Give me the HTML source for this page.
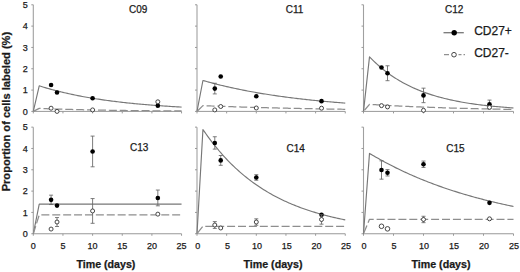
<!DOCTYPE html>
<html><head><meta charset="utf-8"><style>
html,body{margin:0;padding:0;background:#fff;width:520px;height:272px;overflow:hidden}
svg{display:block;font-family:"Liberation Sans",sans-serif}
</style></head><body>
<svg width="520" height="272" viewBox="0 0 520 272">
<line x1="33.30" y1="4.80" x2="33.30" y2="111.40" stroke="#a0a0a0" stroke-width="1.1" />
<line x1="33.30" y1="111.40" x2="181.55" y2="111.40" stroke="#999" stroke-width="1.0" />
<line x1="31.30" y1="111.40" x2="33.30" y2="111.40" stroke="#999" stroke-width="1" />
<line x1="31.30" y1="90.08" x2="33.30" y2="90.08" stroke="#999" stroke-width="1" />
<line x1="31.30" y1="68.76" x2="33.30" y2="68.76" stroke="#999" stroke-width="1" />
<line x1="31.30" y1="47.44" x2="33.30" y2="47.44" stroke="#999" stroke-width="1" />
<line x1="31.30" y1="26.12" x2="33.30" y2="26.12" stroke="#999" stroke-width="1" />
<line x1="31.30" y1="4.80" x2="33.30" y2="4.80" stroke="#999" stroke-width="1" />
<line x1="33.30" y1="111.40" x2="33.30" y2="113.40" stroke="#999" stroke-width="1" />
<line x1="62.95" y1="111.40" x2="62.95" y2="113.40" stroke="#999" stroke-width="1" />
<line x1="92.60" y1="111.40" x2="92.60" y2="113.40" stroke="#999" stroke-width="1" />
<line x1="122.25" y1="111.40" x2="122.25" y2="113.40" stroke="#999" stroke-width="1" />
<line x1="151.90" y1="111.40" x2="151.90" y2="113.40" stroke="#999" stroke-width="1" />
<line x1="181.55" y1="111.40" x2="181.55" y2="113.40" stroke="#999" stroke-width="1" />
<line x1="197.00" y1="4.80" x2="197.00" y2="111.40" stroke="#a0a0a0" stroke-width="1.1" />
<line x1="197.00" y1="111.40" x2="345.25" y2="111.40" stroke="#999" stroke-width="1.0" />
<line x1="195.00" y1="111.40" x2="197.00" y2="111.40" stroke="#999" stroke-width="1" />
<line x1="195.00" y1="90.08" x2="197.00" y2="90.08" stroke="#999" stroke-width="1" />
<line x1="195.00" y1="68.76" x2="197.00" y2="68.76" stroke="#999" stroke-width="1" />
<line x1="195.00" y1="47.44" x2="197.00" y2="47.44" stroke="#999" stroke-width="1" />
<line x1="195.00" y1="26.12" x2="197.00" y2="26.12" stroke="#999" stroke-width="1" />
<line x1="195.00" y1="4.80" x2="197.00" y2="4.80" stroke="#999" stroke-width="1" />
<line x1="197.00" y1="111.40" x2="197.00" y2="113.40" stroke="#999" stroke-width="1" />
<line x1="226.65" y1="111.40" x2="226.65" y2="113.40" stroke="#999" stroke-width="1" />
<line x1="256.30" y1="111.40" x2="256.30" y2="113.40" stroke="#999" stroke-width="1" />
<line x1="285.95" y1="111.40" x2="285.95" y2="113.40" stroke="#999" stroke-width="1" />
<line x1="315.60" y1="111.40" x2="315.60" y2="113.40" stroke="#999" stroke-width="1" />
<line x1="345.25" y1="111.40" x2="345.25" y2="113.40" stroke="#999" stroke-width="1" />
<line x1="363.50" y1="4.80" x2="363.50" y2="111.40" stroke="#a0a0a0" stroke-width="1.1" />
<line x1="363.50" y1="111.40" x2="513.50" y2="111.40" stroke="#999" stroke-width="1.0" />
<line x1="361.50" y1="111.40" x2="363.50" y2="111.40" stroke="#999" stroke-width="1" />
<line x1="361.50" y1="90.08" x2="363.50" y2="90.08" stroke="#999" stroke-width="1" />
<line x1="361.50" y1="68.76" x2="363.50" y2="68.76" stroke="#999" stroke-width="1" />
<line x1="361.50" y1="47.44" x2="363.50" y2="47.44" stroke="#999" stroke-width="1" />
<line x1="361.50" y1="26.12" x2="363.50" y2="26.12" stroke="#999" stroke-width="1" />
<line x1="361.50" y1="4.80" x2="363.50" y2="4.80" stroke="#999" stroke-width="1" />
<line x1="363.50" y1="111.40" x2="363.50" y2="113.40" stroke="#999" stroke-width="1" />
<line x1="393.50" y1="111.40" x2="393.50" y2="113.40" stroke="#999" stroke-width="1" />
<line x1="423.50" y1="111.40" x2="423.50" y2="113.40" stroke="#999" stroke-width="1" />
<line x1="453.50" y1="111.40" x2="453.50" y2="113.40" stroke="#999" stroke-width="1" />
<line x1="483.50" y1="111.40" x2="483.50" y2="113.40" stroke="#999" stroke-width="1" />
<line x1="513.50" y1="111.40" x2="513.50" y2="113.40" stroke="#999" stroke-width="1" />
<line x1="33.30" y1="127.15" x2="33.30" y2="233.75" stroke="#a0a0a0" stroke-width="1.1" />
<line x1="33.30" y1="233.75" x2="181.55" y2="233.75" stroke="#999" stroke-width="1.0" />
<line x1="31.30" y1="233.75" x2="33.30" y2="233.75" stroke="#999" stroke-width="1" />
<line x1="31.30" y1="212.43" x2="33.30" y2="212.43" stroke="#999" stroke-width="1" />
<line x1="31.30" y1="191.11" x2="33.30" y2="191.11" stroke="#999" stroke-width="1" />
<line x1="31.30" y1="169.79" x2="33.30" y2="169.79" stroke="#999" stroke-width="1" />
<line x1="31.30" y1="148.47" x2="33.30" y2="148.47" stroke="#999" stroke-width="1" />
<line x1="31.30" y1="127.15" x2="33.30" y2="127.15" stroke="#999" stroke-width="1" />
<line x1="33.30" y1="233.75" x2="33.30" y2="235.75" stroke="#999" stroke-width="1" />
<line x1="62.95" y1="233.75" x2="62.95" y2="235.75" stroke="#999" stroke-width="1" />
<line x1="92.60" y1="233.75" x2="92.60" y2="235.75" stroke="#999" stroke-width="1" />
<line x1="122.25" y1="233.75" x2="122.25" y2="235.75" stroke="#999" stroke-width="1" />
<line x1="151.90" y1="233.75" x2="151.90" y2="235.75" stroke="#999" stroke-width="1" />
<line x1="181.55" y1="233.75" x2="181.55" y2="235.75" stroke="#999" stroke-width="1" />
<line x1="197.00" y1="127.15" x2="197.00" y2="233.75" stroke="#a0a0a0" stroke-width="1.1" />
<line x1="197.00" y1="233.75" x2="345.25" y2="233.75" stroke="#999" stroke-width="1.0" />
<line x1="195.00" y1="233.75" x2="197.00" y2="233.75" stroke="#999" stroke-width="1" />
<line x1="195.00" y1="212.43" x2="197.00" y2="212.43" stroke="#999" stroke-width="1" />
<line x1="195.00" y1="191.11" x2="197.00" y2="191.11" stroke="#999" stroke-width="1" />
<line x1="195.00" y1="169.79" x2="197.00" y2="169.79" stroke="#999" stroke-width="1" />
<line x1="195.00" y1="148.47" x2="197.00" y2="148.47" stroke="#999" stroke-width="1" />
<line x1="195.00" y1="127.15" x2="197.00" y2="127.15" stroke="#999" stroke-width="1" />
<line x1="197.00" y1="233.75" x2="197.00" y2="235.75" stroke="#999" stroke-width="1" />
<line x1="226.65" y1="233.75" x2="226.65" y2="235.75" stroke="#999" stroke-width="1" />
<line x1="256.30" y1="233.75" x2="256.30" y2="235.75" stroke="#999" stroke-width="1" />
<line x1="285.95" y1="233.75" x2="285.95" y2="235.75" stroke="#999" stroke-width="1" />
<line x1="315.60" y1="233.75" x2="315.60" y2="235.75" stroke="#999" stroke-width="1" />
<line x1="345.25" y1="233.75" x2="345.25" y2="235.75" stroke="#999" stroke-width="1" />
<line x1="363.50" y1="127.15" x2="363.50" y2="233.75" stroke="#a0a0a0" stroke-width="1.1" />
<line x1="363.50" y1="233.75" x2="513.50" y2="233.75" stroke="#999" stroke-width="1.0" />
<line x1="361.50" y1="233.75" x2="363.50" y2="233.75" stroke="#999" stroke-width="1" />
<line x1="361.50" y1="212.43" x2="363.50" y2="212.43" stroke="#999" stroke-width="1" />
<line x1="361.50" y1="191.11" x2="363.50" y2="191.11" stroke="#999" stroke-width="1" />
<line x1="361.50" y1="169.79" x2="363.50" y2="169.79" stroke="#999" stroke-width="1" />
<line x1="361.50" y1="148.47" x2="363.50" y2="148.47" stroke="#999" stroke-width="1" />
<line x1="361.50" y1="127.15" x2="363.50" y2="127.15" stroke="#999" stroke-width="1" />
<line x1="363.50" y1="233.75" x2="363.50" y2="235.75" stroke="#999" stroke-width="1" />
<line x1="393.50" y1="233.75" x2="393.50" y2="235.75" stroke="#999" stroke-width="1" />
<line x1="423.50" y1="233.75" x2="423.50" y2="235.75" stroke="#999" stroke-width="1" />
<line x1="453.50" y1="233.75" x2="453.50" y2="235.75" stroke="#999" stroke-width="1" />
<line x1="483.50" y1="233.75" x2="483.50" y2="235.75" stroke="#999" stroke-width="1" />
<line x1="513.50" y1="233.75" x2="513.50" y2="235.75" stroke="#999" stroke-width="1" />
<path d="M33.30,111.40 L39.23,85.82 L40.71,86.28 L42.19,86.75 L43.68,87.20 L45.16,87.64 L46.64,88.08 L48.12,88.50 L49.61,88.92 L51.09,89.34 L52.57,89.74 L54.05,90.14 L55.54,90.53 L57.02,90.91 L58.50,91.28 L59.98,91.65 L61.47,92.02 L62.95,92.37 L64.43,92.72 L65.91,93.06 L67.40,93.40 L68.88,93.73 L70.36,94.05 L71.84,94.37 L73.33,94.68 L74.81,94.99 L76.29,95.29 L77.77,95.58 L79.26,95.87 L80.74,96.16 L82.22,96.44 L83.70,96.71 L85.19,96.98 L86.67,97.25 L88.15,97.51 L89.63,97.76 L91.12,98.01 L92.60,98.26 L94.08,98.50 L95.56,98.73 L97.05,98.97 L98.53,99.19 L100.01,99.42 L101.49,99.64 L102.98,99.85 L104.46,100.06 L105.94,100.27 L107.42,100.48 L108.91,100.68 L110.39,100.87 L111.87,101.07 L113.35,101.26 L114.84,101.44 L116.32,101.62 L117.80,101.80 L119.28,101.98 L120.77,102.15 L122.25,102.32 L123.73,102.49 L125.21,102.65 L126.70,102.81 L128.18,102.97 L129.66,103.12 L131.14,103.27 L132.63,103.42 L134.11,103.57 L135.59,103.71 L137.07,103.85 L138.56,103.99 L140.04,104.13 L141.52,104.26 L143.00,104.39 L144.49,104.52 L145.97,104.65 L147.45,104.77 L148.94,104.89 L150.42,105.01 L151.90,105.13 L153.38,105.24 L154.87,105.36 L156.35,105.47 L157.83,105.58 L159.31,105.68 L160.79,105.79 L162.28,105.89 L163.76,105.99 L165.24,106.09 L166.72,106.19 L168.21,106.28 L169.69,106.38 L171.17,106.47 L172.65,106.56 L174.14,106.65 L175.62,106.74 L177.10,106.82 L178.58,106.90 L180.07,106.99 L181.55,107.07" fill="none" stroke="#777" stroke-width="1.15" stroke-linejoin="round" />
<path d="M33.30,111.40 L39.23,108.42 L40.71,108.48 L42.19,108.53 L43.68,108.59 L45.16,108.65 L46.64,108.70 L48.12,108.76 L49.61,108.81 L51.09,108.86 L52.57,108.91 L54.05,108.96 L55.54,109.01 L57.02,109.06 L58.50,109.11 L59.98,109.15 L61.47,109.20 L62.95,109.24 L64.43,109.28 L65.91,109.33 L67.40,109.37 L68.88,109.41 L70.36,109.45 L71.84,109.49 L73.33,109.53 L74.81,109.56 L76.29,109.60 L77.77,109.64 L79.26,109.67 L80.74,109.71 L82.22,109.74 L83.70,109.77 L85.19,109.81 L86.67,109.84 L88.15,109.87 L89.63,109.90 L91.12,109.93 L92.60,109.96 L94.08,109.99 L95.56,110.02 L97.05,110.05 L98.53,110.07 L100.01,110.10 L101.49,110.12 L102.98,110.15 L104.46,110.18 L105.94,110.20 L107.42,110.22 L108.91,110.25 L110.39,110.27 L111.87,110.29 L113.35,110.32 L114.84,110.34 L116.32,110.36 L117.80,110.38 L119.28,110.40 L120.77,110.42 L122.25,110.44 L123.73,110.46 L125.21,110.48 L126.70,110.50 L128.18,110.51 L129.66,110.53 L131.14,110.55 L132.63,110.57 L134.11,110.58 L135.59,110.60 L137.07,110.62 L138.56,110.63 L140.04,110.65 L141.52,110.66 L143.00,110.68 L144.49,110.69 L145.97,110.71 L147.45,110.72 L148.94,110.73 L150.42,110.75 L151.90,110.76 L153.38,110.77 L154.87,110.78 L156.35,110.80 L157.83,110.81 L159.31,110.82 L160.79,110.83 L162.28,110.84 L163.76,110.86 L165.24,110.87 L166.72,110.88 L168.21,110.89 L169.69,110.90 L171.17,110.91 L172.65,110.92 L174.14,110.93 L175.62,110.94 L177.10,110.95 L178.58,110.96 L180.07,110.96 L181.55,110.97" fill="none" stroke="#8e8e8e" stroke-width="1.25" stroke-linejoin="round" stroke-dasharray="8 2.9" stroke-dashoffset="0"/>
<circle cx="51.09" cy="84.96" r="2.3" fill="#000"/>
<circle cx="57.02" cy="92.43" r="2.3" fill="#000"/>
<circle cx="92.60" cy="98.18" r="2.3" fill="#000"/>
<circle cx="157.83" cy="105.64" r="2.3" fill="#000"/>
<circle cx="51.09" cy="108.20" r="2.0" fill="#fff" stroke="#333" stroke-width="0.9"/>
<circle cx="57.02" cy="111.40" r="2.0" fill="#fff" stroke="#333" stroke-width="0.9"/>
<circle cx="92.60" cy="109.91" r="2.0" fill="#fff" stroke="#333" stroke-width="0.9"/>
<circle cx="157.83" cy="101.81" r="2.0" fill="#fff" stroke="#333" stroke-width="0.9"/>
<path d="M197.00,111.40 L202.93,80.49 L204.41,80.91 L205.90,81.32 L207.38,81.74 L208.86,82.14 L210.34,82.54 L211.82,82.93 L213.31,83.32 L214.79,83.71 L216.27,84.08 L217.75,84.46 L219.24,84.83 L220.72,85.19 L222.20,85.55 L223.69,85.90 L225.17,86.25 L226.65,86.59 L228.13,86.93 L229.62,87.26 L231.10,87.59 L232.58,87.92 L234.06,88.24 L235.55,88.56 L237.03,88.87 L238.51,89.18 L239.99,89.48 L241.47,89.78 L242.96,90.07 L244.44,90.36 L245.92,90.65 L247.41,90.94 L248.89,91.21 L250.37,91.49 L251.85,91.76 L253.33,92.03 L254.82,92.29 L256.30,92.56 L257.78,92.81 L259.26,93.07 L260.75,93.32 L262.23,93.56 L263.71,93.81 L265.19,94.05 L266.68,94.28 L268.16,94.52 L269.64,94.75 L271.12,94.98 L272.61,95.20 L274.09,95.42 L275.57,95.64 L277.06,95.86 L278.54,96.07 L280.02,96.28 L281.50,96.48 L282.99,96.69 L284.47,96.89 L285.95,97.09 L287.43,97.28 L288.91,97.47 L290.40,97.66 L291.88,97.85 L293.36,98.04 L294.85,98.22 L296.33,98.40 L297.81,98.58 L299.29,98.75 L300.77,98.93 L302.26,99.10 L303.74,99.26 L305.22,99.43 L306.70,99.59 L308.19,99.75 L309.67,99.91 L311.15,100.07 L312.63,100.22 L314.12,100.38 L315.60,100.53 L317.08,100.68 L318.56,100.82 L320.05,100.97 L321.53,101.11 L323.01,101.25 L324.50,101.39 L325.98,101.53 L327.46,101.66 L328.94,101.79 L330.42,101.92 L331.91,102.05 L333.39,102.18 L334.87,102.31 L336.36,102.43 L337.84,102.55 L339.32,102.67 L340.80,102.79 L342.28,102.91 L343.77,103.03 L345.25,103.14" fill="none" stroke="#777" stroke-width="1.15" stroke-linejoin="round" />
<path d="M197.00,111.40 L202.93,105.64 L204.41,105.70 L205.90,105.76 L207.38,105.82 L208.86,105.88 L210.34,105.94 L211.82,106.00 L213.31,106.05 L214.79,106.11 L216.27,106.16 L217.75,106.22 L219.24,106.27 L220.72,106.33 L222.20,106.38 L223.69,106.43 L225.17,106.48 L226.65,106.53 L228.13,106.58 L229.62,106.63 L231.10,106.68 L232.58,106.73 L234.06,106.78 L235.55,106.83 L237.03,106.88 L238.51,106.93 L239.99,106.97 L241.47,107.02 L242.96,107.06 L244.44,107.11 L245.92,107.15 L247.41,107.20 L248.89,107.24 L250.37,107.29 L251.85,107.33 L253.33,107.37 L254.82,107.41 L256.30,107.46 L257.78,107.50 L259.26,107.54 L260.75,107.58 L262.23,107.62 L263.71,107.66 L265.19,107.70 L266.68,107.74 L268.16,107.77 L269.64,107.81 L271.12,107.85 L272.61,107.89 L274.09,107.92 L275.57,107.96 L277.06,107.99 L278.54,108.03 L280.02,108.07 L281.50,108.10 L282.99,108.13 L284.47,108.17 L285.95,108.20 L287.43,108.24 L288.91,108.27 L290.40,108.30 L291.88,108.33 L293.36,108.37 L294.85,108.40 L296.33,108.43 L297.81,108.46 L299.29,108.49 L300.77,108.52 L302.26,108.55 L303.74,108.58 L305.22,108.61 L306.70,108.64 L308.19,108.67 L309.67,108.70 L311.15,108.73 L312.63,108.75 L314.12,108.78 L315.60,108.81 L317.08,108.84 L318.56,108.86 L320.05,108.89 L321.53,108.91 L323.01,108.94 L324.50,108.97 L325.98,108.99 L327.46,109.02 L328.94,109.04 L330.42,109.07 L331.91,109.09 L333.39,109.12 L334.87,109.14 L336.36,109.16 L337.84,109.19 L339.32,109.21 L340.80,109.23 L342.28,109.25 L343.77,109.28 L345.25,109.30" fill="none" stroke="#8e8e8e" stroke-width="1.25" stroke-linejoin="round" stroke-dasharray="8 2.9" stroke-dashoffset="-1"/>
<line x1="214.79" y1="83.26" x2="214.79" y2="93.92" stroke="#666" stroke-width="0.85" />
<line x1="212.79" y1="83.26" x2="216.79" y2="83.26" stroke="#666" stroke-width="0.85" />
<line x1="212.79" y1="93.92" x2="216.79" y2="93.92" stroke="#666" stroke-width="0.85" />
<circle cx="214.79" cy="88.59" r="2.3" fill="#000"/>
<circle cx="220.72" cy="76.44" r="2.3" fill="#000"/>
<circle cx="256.30" cy="96.26" r="2.3" fill="#000"/>
<circle cx="321.53" cy="101.17" r="2.3" fill="#000"/>
<circle cx="214.79" cy="109.91" r="2.0" fill="#fff" stroke="#333" stroke-width="0.9"/>
<circle cx="220.72" cy="106.50" r="2.0" fill="#fff" stroke="#333" stroke-width="0.9"/>
<circle cx="256.30" cy="107.99" r="2.0" fill="#fff" stroke="#333" stroke-width="0.9"/>
<circle cx="321.53" cy="108.20" r="2.0" fill="#fff" stroke="#333" stroke-width="0.9"/>
<path d="M363.50,111.40 L369.50,56.82 L371.00,58.37 L372.50,59.87 L374.00,61.33 L375.50,62.75 L377.00,64.13 L378.50,65.47 L380.00,66.77 L381.50,68.03 L383.00,69.26 L384.50,70.46 L386.00,71.62 L387.50,72.75 L389.00,73.84 L390.50,74.91 L392.00,75.94 L393.50,76.95 L395.00,77.92 L396.50,78.87 L398.00,79.79 L399.50,80.69 L401.00,81.56 L402.50,82.40 L404.00,83.23 L405.50,84.02 L407.00,84.80 L408.50,85.55 L410.00,86.29 L411.50,87.00 L413.00,87.69 L414.50,88.36 L416.00,89.01 L417.50,89.65 L419.00,90.27 L420.50,90.86 L422.00,91.45 L423.50,92.01 L425.00,92.56 L426.50,93.10 L428.00,93.61 L429.50,94.12 L431.00,94.61 L432.50,95.08 L434.00,95.55 L435.50,96.00 L437.00,96.43 L438.50,96.86 L440.00,97.27 L441.50,97.67 L443.00,98.06 L444.50,98.44 L446.00,98.80 L447.50,99.16 L449.00,99.51 L450.50,99.84 L452.00,100.17 L453.50,100.49 L455.00,100.80 L456.50,101.10 L458.00,101.39 L459.50,101.68 L461.00,101.95 L462.50,102.22 L464.00,102.48 L465.50,102.73 L467.00,102.98 L468.50,103.22 L470.00,103.45 L471.50,103.67 L473.00,103.89 L474.50,104.11 L476.00,104.31 L477.50,104.51 L479.00,104.71 L480.50,104.90 L482.00,105.08 L483.50,105.26 L485.00,105.44 L486.50,105.60 L488.00,105.77 L489.50,105.93 L491.00,106.08 L492.50,106.23 L494.00,106.38 L495.50,106.52 L497.00,106.66 L498.50,106.79 L500.00,106.93 L501.50,107.05 L503.00,107.18 L504.50,107.30 L506.00,107.41 L507.50,107.52 L509.00,107.63 L510.50,107.74 L512.00,107.84 L513.50,107.95" fill="none" stroke="#777" stroke-width="1.15" stroke-linejoin="round" />
<path d="M363.50,111.40 L369.50,104.36 L371.00,104.46 L372.50,104.55 L374.00,104.64 L375.50,104.73 L377.00,104.82 L378.50,104.91 L380.00,105.00 L381.50,105.08 L383.00,105.17 L384.50,105.25 L386.00,105.34 L387.50,105.42 L389.00,105.50 L390.50,105.58 L392.00,105.65 L393.50,105.73 L395.00,105.81 L396.50,105.88 L398.00,105.96 L399.50,106.03 L401.00,106.10 L402.50,106.17 L404.00,106.24 L405.50,106.31 L407.00,106.38 L408.50,106.45 L410.00,106.51 L411.50,106.58 L413.00,106.64 L414.50,106.71 L416.00,106.77 L417.50,106.83 L419.00,106.89 L420.50,106.95 L422.00,107.01 L423.50,107.07 L425.00,107.13 L426.50,107.19 L428.00,107.24 L429.50,107.30 L431.00,107.35 L432.50,107.41 L434.00,107.46 L435.50,107.52 L437.00,107.57 L438.50,107.62 L440.00,107.67 L441.50,107.72 L443.00,107.77 L444.50,107.82 L446.00,107.87 L447.50,107.91 L449.00,107.96 L450.50,108.01 L452.00,108.05 L453.50,108.10 L455.00,108.14 L456.50,108.18 L458.00,108.23 L459.50,108.27 L461.00,108.31 L462.50,108.35 L464.00,108.39 L465.50,108.43 L467.00,108.47 L468.50,108.51 L470.00,108.55 L471.50,108.59 L473.00,108.63 L474.50,108.67 L476.00,108.70 L477.50,108.74 L479.00,108.77 L480.50,108.81 L482.00,108.84 L483.50,108.88 L485.00,108.91 L486.50,108.95 L488.00,108.98 L489.50,109.01 L491.00,109.04 L492.50,109.07 L494.00,109.11 L495.50,109.14 L497.00,109.17 L498.50,109.20 L500.00,109.23 L501.50,109.26 L503.00,109.28 L504.50,109.31 L506.00,109.34 L507.50,109.37 L509.00,109.40 L510.50,109.42 L512.00,109.45 L513.50,109.47" fill="none" stroke="#8e8e8e" stroke-width="1.25" stroke-linejoin="round" stroke-dasharray="8 2.9" stroke-dashoffset="-1.5"/>
<circle cx="381.50" cy="67.48" r="2.3" fill="#000"/>
<line x1="387.50" y1="65.78" x2="387.50" y2="80.70" stroke="#666" stroke-width="0.85" />
<line x1="385.50" y1="65.78" x2="389.50" y2="65.78" stroke="#666" stroke-width="0.85" />
<line x1="385.50" y1="80.70" x2="389.50" y2="80.70" stroke="#666" stroke-width="0.85" />
<circle cx="387.50" cy="73.24" r="2.3" fill="#000"/>
<line x1="423.50" y1="88.16" x2="423.50" y2="102.66" stroke="#666" stroke-width="0.85" />
<line x1="421.50" y1="88.16" x2="425.50" y2="88.16" stroke="#666" stroke-width="0.85" />
<line x1="421.50" y1="102.66" x2="425.50" y2="102.66" stroke="#666" stroke-width="0.85" />
<circle cx="423.50" cy="95.41" r="2.3" fill="#000"/>
<line x1="489.50" y1="100.10" x2="489.50" y2="108.63" stroke="#666" stroke-width="0.85" />
<line x1="487.50" y1="100.10" x2="491.50" y2="100.10" stroke="#666" stroke-width="0.85" />
<line x1="487.50" y1="108.63" x2="491.50" y2="108.63" stroke="#666" stroke-width="0.85" />
<circle cx="489.50" cy="104.36" r="2.3" fill="#000"/>
<circle cx="381.50" cy="105.64" r="2.0" fill="#fff" stroke="#333" stroke-width="0.9"/>
<circle cx="387.50" cy="106.92" r="2.0" fill="#fff" stroke="#333" stroke-width="0.9"/>
<circle cx="423.50" cy="110.33" r="2.0" fill="#fff" stroke="#333" stroke-width="0.9"/>
<circle cx="489.50" cy="107.35" r="2.0" fill="#fff" stroke="#333" stroke-width="0.9"/>
<path d="M33.30,233.75 L39.23,204.12 L40.71,204.12 L42.19,204.12 L43.68,204.12 L45.16,204.12 L46.64,204.12 L48.12,204.12 L49.61,204.12 L51.09,204.12 L52.57,204.12 L54.05,204.12 L55.54,204.12 L57.02,204.12 L58.50,204.12 L59.98,204.12 L61.47,204.12 L62.95,204.12 L64.43,204.12 L65.91,204.12 L67.40,204.12 L68.88,204.12 L70.36,204.12 L71.84,204.12 L73.33,204.12 L74.81,204.12 L76.29,204.12 L77.77,204.12 L79.26,204.12 L80.74,204.12 L82.22,204.12 L83.70,204.12 L85.19,204.12 L86.67,204.12 L88.15,204.12 L89.63,204.12 L91.12,204.12 L92.60,204.12 L94.08,204.12 L95.56,204.12 L97.05,204.12 L98.53,204.12 L100.01,204.12 L101.49,204.12 L102.98,204.12 L104.46,204.12 L105.94,204.12 L107.42,204.12 L108.91,204.12 L110.39,204.12 L111.87,204.12 L113.35,204.12 L114.84,204.12 L116.32,204.12 L117.80,204.12 L119.28,204.12 L120.77,204.12 L122.25,204.12 L123.73,204.12 L125.21,204.12 L126.70,204.12 L128.18,204.12 L129.66,204.12 L131.14,204.12 L132.63,204.12 L134.11,204.12 L135.59,204.12 L137.07,204.12 L138.56,204.12 L140.04,204.12 L141.52,204.12 L143.00,204.12 L144.49,204.12 L145.97,204.12 L147.45,204.12 L148.94,204.12 L150.42,204.12 L151.90,204.12 L153.38,204.12 L154.87,204.12 L156.35,204.12 L157.83,204.12 L159.31,204.12 L160.79,204.12 L162.28,204.12 L163.76,204.12 L165.24,204.12 L166.72,204.12 L168.21,204.12 L169.69,204.12 L171.17,204.12 L172.65,204.12 L174.14,204.12 L175.62,204.12 L177.10,204.12 L178.58,204.12 L180.07,204.12 L181.55,204.12" fill="none" stroke="#777" stroke-width="1.15" stroke-linejoin="round" />
<path d="M33.30,233.75 L39.23,214.99 L40.71,214.99 L42.19,214.99 L43.68,214.99 L45.16,214.99 L46.64,214.99 L48.12,214.99 L49.61,214.99 L51.09,214.99 L52.57,214.99 L54.05,214.99 L55.54,214.99 L57.02,214.99 L58.50,214.99 L59.98,214.99 L61.47,214.99 L62.95,214.99 L64.43,214.99 L65.91,214.99 L67.40,214.99 L68.88,214.99 L70.36,214.99 L71.84,214.99 L73.33,214.99 L74.81,214.99 L76.29,214.99 L77.77,214.99 L79.26,214.99 L80.74,214.99 L82.22,214.99 L83.70,214.99 L85.19,214.99 L86.67,214.99 L88.15,214.99 L89.63,214.99 L91.12,214.99 L92.60,214.99 L94.08,214.99 L95.56,214.99 L97.05,214.99 L98.53,214.99 L100.01,214.99 L101.49,214.99 L102.98,214.99 L104.46,214.99 L105.94,214.99 L107.42,214.99 L108.91,214.99 L110.39,214.99 L111.87,214.99 L113.35,214.99 L114.84,214.99 L116.32,214.99 L117.80,214.99 L119.28,214.99 L120.77,214.99 L122.25,214.99 L123.73,214.99 L125.21,214.99 L126.70,214.99 L128.18,214.99 L129.66,214.99 L131.14,214.99 L132.63,214.99 L134.11,214.99 L135.59,214.99 L137.07,214.99 L138.56,214.99 L140.04,214.99 L141.52,214.99 L143.00,214.99 L144.49,214.99 L145.97,214.99 L147.45,214.99 L148.94,214.99 L150.42,214.99 L151.90,214.99 L153.38,214.99 L154.87,214.99 L156.35,214.99 L157.83,214.99 L159.31,214.99 L160.79,214.99 L162.28,214.99 L163.76,214.99 L165.24,214.99 L166.72,214.99 L168.21,214.99 L169.69,214.99 L171.17,214.99 L172.65,214.99 L174.14,214.99 L175.62,214.99 L177.10,214.99 L178.58,214.99 L180.07,214.99 L181.55,214.99" fill="none" stroke="#8e8e8e" stroke-width="1.25" stroke-linejoin="round" stroke-dasharray="8 2.9" stroke-dashoffset="0"/>
<line x1="51.09" y1="195.16" x2="51.09" y2="204.54" stroke="#666" stroke-width="0.85" />
<line x1="49.09" y1="195.16" x2="53.09" y2="195.16" stroke="#666" stroke-width="0.85" />
<line x1="49.09" y1="204.54" x2="53.09" y2="204.54" stroke="#666" stroke-width="0.85" />
<circle cx="51.09" cy="199.85" r="2.3" fill="#000"/>
<circle cx="57.02" cy="205.61" r="2.3" fill="#000"/>
<line x1="92.60" y1="136.10" x2="92.60" y2="166.81" stroke="#666" stroke-width="0.85" />
<line x1="90.60" y1="136.10" x2="94.60" y2="136.10" stroke="#666" stroke-width="0.85" />
<line x1="90.60" y1="166.81" x2="94.60" y2="166.81" stroke="#666" stroke-width="0.85" />
<circle cx="92.60" cy="151.45" r="2.3" fill="#000"/>
<line x1="157.83" y1="190.04" x2="157.83" y2="205.82" stroke="#666" stroke-width="0.85" />
<line x1="155.83" y1="190.04" x2="159.83" y2="190.04" stroke="#666" stroke-width="0.85" />
<line x1="155.83" y1="205.82" x2="159.83" y2="205.82" stroke="#666" stroke-width="0.85" />
<circle cx="157.83" cy="197.93" r="2.3" fill="#000"/>
<circle cx="51.09" cy="229.06" r="2.0" fill="#fff" stroke="#333" stroke-width="0.9"/>
<line x1="57.02" y1="217.55" x2="57.02" y2="226.50" stroke="#666" stroke-width="0.85" />
<line x1="55.02" y1="217.55" x2="59.02" y2="217.55" stroke="#666" stroke-width="0.85" />
<line x1="55.02" y1="226.50" x2="59.02" y2="226.50" stroke="#666" stroke-width="0.85" />
<circle cx="57.02" cy="222.02" r="2.0" fill="#fff" stroke="#333" stroke-width="0.9"/>
<line x1="92.60" y1="198.57" x2="92.60" y2="223.30" stroke="#666" stroke-width="0.85" />
<line x1="90.60" y1="198.57" x2="94.60" y2="198.57" stroke="#666" stroke-width="0.85" />
<line x1="90.60" y1="223.30" x2="94.60" y2="223.30" stroke="#666" stroke-width="0.85" />
<circle cx="92.60" cy="210.94" r="2.0" fill="#fff" stroke="#333" stroke-width="0.9"/>
<circle cx="157.83" cy="214.14" r="2.0" fill="#fff" stroke="#333" stroke-width="0.9"/>
<path d="M197.00,233.75 L202.93,129.50 L204.41,131.66 L205.90,133.78 L207.38,135.86 L208.86,137.89 L210.34,139.89 L211.82,141.84 L213.31,143.75 L214.79,145.62 L216.27,147.45 L217.75,149.24 L219.24,151.00 L220.72,152.72 L222.20,154.40 L223.69,156.05 L225.17,157.67 L226.65,159.25 L228.13,160.80 L229.62,162.31 L231.10,163.80 L232.58,165.25 L234.06,166.67 L235.55,168.07 L237.03,169.43 L238.51,170.77 L239.99,172.08 L241.47,173.36 L242.96,174.61 L244.44,175.84 L245.92,177.05 L247.41,178.22 L248.89,179.38 L250.37,180.51 L251.85,181.61 L253.33,182.70 L254.82,183.76 L256.30,184.80 L257.78,185.82 L259.26,186.81 L260.75,187.79 L262.23,188.74 L263.71,189.68 L265.19,190.59 L266.68,191.49 L268.16,192.37 L269.64,193.23 L271.12,194.07 L272.61,194.89 L274.09,195.70 L275.57,196.49 L277.06,197.27 L278.54,198.03 L280.02,198.77 L281.50,199.49 L282.99,200.21 L284.47,200.90 L285.95,201.59 L287.43,202.25 L288.91,202.91 L290.40,203.55 L291.88,204.18 L293.36,204.79 L294.85,205.39 L296.33,205.98 L297.81,206.56 L299.29,207.13 L300.77,207.68 L302.26,208.22 L303.74,208.75 L305.22,209.27 L306.70,209.78 L308.19,210.28 L309.67,210.77 L311.15,211.24 L312.63,211.71 L314.12,212.17 L315.60,212.62 L317.08,213.06 L318.56,213.49 L320.05,213.91 L321.53,214.32 L323.01,214.72 L324.50,215.12 L325.98,215.51 L327.46,215.89 L328.94,216.26 L330.42,216.62 L331.91,216.98 L333.39,217.32 L334.87,217.67 L336.36,218.00 L337.84,218.33 L339.32,218.65 L340.80,218.96 L342.28,219.27 L343.77,219.57 L345.25,219.86" fill="none" stroke="#777" stroke-width="1.15" stroke-linejoin="round" />
<path d="M197.00,233.75 L202.93,226.29 L204.41,226.29 L205.90,226.29 L207.38,226.29 L208.86,226.29 L210.34,226.29 L211.82,226.29 L213.31,226.29 L214.79,226.29 L216.27,226.29 L217.75,226.29 L219.24,226.29 L220.72,226.29 L222.20,226.29 L223.69,226.29 L225.17,226.29 L226.65,226.29 L228.13,226.29 L229.62,226.29 L231.10,226.29 L232.58,226.29 L234.06,226.29 L235.55,226.29 L237.03,226.29 L238.51,226.29 L239.99,226.29 L241.47,226.29 L242.96,226.29 L244.44,226.29 L245.92,226.29 L247.41,226.29 L248.89,226.29 L250.37,226.29 L251.85,226.29 L253.33,226.29 L254.82,226.29 L256.30,226.29 L257.78,226.29 L259.26,226.29 L260.75,226.29 L262.23,226.29 L263.71,226.29 L265.19,226.29 L266.68,226.29 L268.16,226.29 L269.64,226.29 L271.12,226.29 L272.61,226.29 L274.09,226.29 L275.57,226.29 L277.06,226.29 L278.54,226.29 L280.02,226.29 L281.50,226.29 L282.99,226.29 L284.47,226.29 L285.95,226.29 L287.43,226.29 L288.91,226.29 L290.40,226.29 L291.88,226.29 L293.36,226.29 L294.85,226.29 L296.33,226.29 L297.81,226.29 L299.29,226.29 L300.77,226.29 L302.26,226.29 L303.74,226.29 L305.22,226.29 L306.70,226.29 L308.19,226.29 L309.67,226.29 L311.15,226.29 L312.63,226.29 L314.12,226.29 L315.60,226.29 L317.08,226.29 L318.56,226.29 L320.05,226.29 L321.53,226.29 L323.01,226.29 L324.50,226.29 L325.98,226.29 L327.46,226.29 L328.94,226.29 L330.42,226.29 L331.91,226.29 L333.39,226.29 L334.87,226.29 L336.36,226.29 L337.84,226.29 L339.32,226.29 L340.80,226.29 L342.28,226.29 L343.77,226.29 L345.25,226.29" fill="none" stroke="#8e8e8e" stroke-width="1.25" stroke-linejoin="round" stroke-dasharray="8 2.9" stroke-dashoffset="-1"/>
<line x1="214.79" y1="136.74" x2="214.79" y2="149.11" stroke="#666" stroke-width="0.85" />
<line x1="212.79" y1="136.74" x2="216.79" y2="136.74" stroke="#666" stroke-width="0.85" />
<line x1="212.79" y1="149.11" x2="216.79" y2="149.11" stroke="#666" stroke-width="0.85" />
<circle cx="214.79" cy="142.93" r="2.3" fill="#000"/>
<line x1="220.72" y1="155.51" x2="220.72" y2="165.31" stroke="#666" stroke-width="0.85" />
<line x1="218.72" y1="155.51" x2="222.72" y2="155.51" stroke="#666" stroke-width="0.85" />
<line x1="218.72" y1="165.31" x2="222.72" y2="165.31" stroke="#666" stroke-width="0.85" />
<circle cx="220.72" cy="160.41" r="2.3" fill="#000"/>
<line x1="256.30" y1="174.69" x2="256.30" y2="180.24" stroke="#666" stroke-width="0.85" />
<line x1="254.30" y1="174.69" x2="258.30" y2="174.69" stroke="#666" stroke-width="0.85" />
<line x1="254.30" y1="180.24" x2="258.30" y2="180.24" stroke="#666" stroke-width="0.85" />
<circle cx="256.30" cy="177.47" r="2.3" fill="#000"/>
<circle cx="321.53" cy="214.78" r="2.3" fill="#000"/>
<line x1="214.79" y1="221.60" x2="214.79" y2="228.42" stroke="#666" stroke-width="0.85" />
<line x1="212.79" y1="221.60" x2="216.79" y2="221.60" stroke="#666" stroke-width="0.85" />
<line x1="212.79" y1="228.42" x2="216.79" y2="228.42" stroke="#666" stroke-width="0.85" />
<circle cx="214.79" cy="225.01" r="2.0" fill="#fff" stroke="#333" stroke-width="0.9"/>
<circle cx="220.72" cy="227.99" r="2.0" fill="#fff" stroke="#333" stroke-width="0.9"/>
<line x1="256.30" y1="218.83" x2="256.30" y2="225.22" stroke="#666" stroke-width="0.85" />
<line x1="254.30" y1="218.83" x2="258.30" y2="218.83" stroke="#666" stroke-width="0.85" />
<line x1="254.30" y1="225.22" x2="258.30" y2="225.22" stroke="#666" stroke-width="0.85" />
<circle cx="256.30" cy="222.02" r="2.0" fill="#fff" stroke="#333" stroke-width="0.9"/>
<line x1="321.53" y1="214.78" x2="321.53" y2="224.16" stroke="#666" stroke-width="0.85" />
<line x1="319.53" y1="214.78" x2="323.53" y2="214.78" stroke="#666" stroke-width="0.85" />
<line x1="319.53" y1="224.16" x2="323.53" y2="224.16" stroke="#666" stroke-width="0.85" />
<circle cx="321.53" cy="219.47" r="2.0" fill="#fff" stroke="#333" stroke-width="0.9"/>
<path d="M363.50,233.75 L369.50,153.37 L371.00,154.27 L372.50,155.16 L374.00,156.04 L375.50,156.91 L377.00,157.77 L378.50,158.62 L380.00,159.46 L381.50,160.29 L383.00,161.11 L384.50,161.93 L386.00,162.73 L387.50,163.52 L389.00,164.31 L390.50,165.09 L392.00,165.85 L393.50,166.61 L395.00,167.37 L396.50,168.11 L398.00,168.84 L399.50,169.57 L401.00,170.29 L402.50,171.00 L404.00,171.70 L405.50,172.39 L407.00,173.08 L408.50,173.76 L410.00,174.43 L411.50,175.09 L413.00,175.75 L414.50,176.40 L416.00,177.04 L417.50,177.67 L419.00,178.30 L420.50,178.92 L422.00,179.53 L423.50,180.14 L425.00,180.74 L426.50,181.33 L428.00,181.92 L429.50,182.50 L431.00,183.07 L432.50,183.64 L434.00,184.20 L435.50,184.75 L437.00,185.30 L438.50,185.84 L440.00,186.38 L441.50,186.91 L443.00,187.43 L444.50,187.95 L446.00,188.47 L447.50,188.97 L449.00,189.47 L450.50,189.97 L452.00,190.46 L453.50,190.94 L455.00,191.42 L456.50,191.89 L458.00,192.36 L459.50,192.83 L461.00,193.28 L462.50,193.74 L464.00,194.18 L465.50,194.63 L467.00,195.06 L468.50,195.50 L470.00,195.92 L471.50,196.35 L473.00,196.77 L474.50,197.18 L476.00,197.59 L477.50,197.99 L479.00,198.39 L480.50,198.79 L482.00,199.18 L483.50,199.57 L485.00,199.95 L486.50,200.33 L488.00,200.70 L489.50,201.07 L491.00,201.44 L492.50,201.80 L494.00,202.16 L495.50,202.51 L497.00,202.86 L498.50,203.20 L500.00,203.55 L501.50,203.88 L503.00,204.22 L504.50,204.55 L506.00,204.88 L507.50,205.20 L509.00,205.52 L510.50,205.83 L512.00,206.15 L513.50,206.45" fill="none" stroke="#777" stroke-width="1.15" stroke-linejoin="round" />
<path d="M363.50,233.75 L369.50,219.25 L371.00,219.25 L372.50,219.25 L374.00,219.25 L375.50,219.25 L377.00,219.25 L378.50,219.25 L380.00,219.25 L381.50,219.25 L383.00,219.25 L384.50,219.25 L386.00,219.25 L387.50,219.25 L389.00,219.25 L390.50,219.25 L392.00,219.25 L393.50,219.25 L395.00,219.25 L396.50,219.25 L398.00,219.25 L399.50,219.25 L401.00,219.25 L402.50,219.25 L404.00,219.25 L405.50,219.25 L407.00,219.25 L408.50,219.25 L410.00,219.25 L411.50,219.25 L413.00,219.25 L414.50,219.25 L416.00,219.25 L417.50,219.25 L419.00,219.25 L420.50,219.25 L422.00,219.25 L423.50,219.25 L425.00,219.25 L426.50,219.25 L428.00,219.25 L429.50,219.25 L431.00,219.25 L432.50,219.25 L434.00,219.25 L435.50,219.25 L437.00,219.25 L438.50,219.25 L440.00,219.25 L441.50,219.25 L443.00,219.25 L444.50,219.25 L446.00,219.25 L447.50,219.25 L449.00,219.25 L450.50,219.25 L452.00,219.25 L453.50,219.25 L455.00,219.25 L456.50,219.25 L458.00,219.25 L459.50,219.25 L461.00,219.25 L462.50,219.25 L464.00,219.25 L465.50,219.25 L467.00,219.25 L468.50,219.25 L470.00,219.25 L471.50,219.25 L473.00,219.25 L474.50,219.25 L476.00,219.25 L477.50,219.25 L479.00,219.25 L480.50,219.25 L482.00,219.25 L483.50,219.25 L485.00,219.25 L486.50,219.25 L488.00,219.25 L489.50,219.25 L491.00,219.25 L492.50,219.25 L494.00,219.25 L495.50,219.25 L497.00,219.25 L498.50,219.25 L500.00,219.25 L501.50,219.25 L503.00,219.25 L504.50,219.25 L506.00,219.25 L507.50,219.25 L509.00,219.25 L510.50,219.25 L512.00,219.25 L513.50,219.25" fill="none" stroke="#8e8e8e" stroke-width="1.25" stroke-linejoin="round" stroke-dasharray="8 2.9" stroke-dashoffset="-1"/>
<line x1="381.50" y1="160.84" x2="381.50" y2="179.17" stroke="#666" stroke-width="0.85" />
<line x1="379.50" y1="160.84" x2="383.50" y2="160.84" stroke="#666" stroke-width="0.85" />
<line x1="379.50" y1="179.17" x2="383.50" y2="179.17" stroke="#666" stroke-width="0.85" />
<circle cx="381.50" cy="170.00" r="2.3" fill="#000"/>
<line x1="387.50" y1="169.58" x2="387.50" y2="175.97" stroke="#666" stroke-width="0.85" />
<line x1="385.50" y1="169.58" x2="389.50" y2="169.58" stroke="#666" stroke-width="0.85" />
<line x1="385.50" y1="175.97" x2="389.50" y2="175.97" stroke="#666" stroke-width="0.85" />
<circle cx="387.50" cy="172.77" r="2.3" fill="#000"/>
<line x1="423.50" y1="161.05" x2="423.50" y2="167.44" stroke="#666" stroke-width="0.85" />
<line x1="421.50" y1="161.05" x2="425.50" y2="161.05" stroke="#666" stroke-width="0.85" />
<line x1="421.50" y1="167.44" x2="425.50" y2="167.44" stroke="#666" stroke-width="0.85" />
<circle cx="423.50" cy="164.25" r="2.3" fill="#000"/>
<circle cx="489.50" cy="202.84" r="2.3" fill="#000"/>
<circle cx="381.50" cy="226.29" r="2.3" fill="#fff" stroke="#333" stroke-width="0.9"/>
<circle cx="387.50" cy="228.85" r="2.3" fill="#fff" stroke="#333" stroke-width="0.9"/>
<line x1="423.50" y1="216.27" x2="423.50" y2="222.66" stroke="#666" stroke-width="0.85" />
<line x1="421.50" y1="216.27" x2="425.50" y2="216.27" stroke="#666" stroke-width="0.85" />
<line x1="421.50" y1="222.66" x2="425.50" y2="222.66" stroke="#666" stroke-width="0.85" />
<circle cx="423.50" cy="219.47" r="2.0" fill="#fff" stroke="#333" stroke-width="0.9"/>
<circle cx="489.50" cy="218.83" r="2.0" fill="#fff" stroke="#333" stroke-width="0.9"/>
<text x="129.00" y="12.80" font-size="10" text-anchor="start" font-weight="normal" fill="#1a1a1a" stroke="#1a1a1a" stroke-width="0.25">C09</text>
<text x="285.80" y="13.20" font-size="10" text-anchor="start" font-weight="normal" fill="#1a1a1a" stroke="#1a1a1a" stroke-width="0.25">C11</text>
<text x="445.00" y="13.00" font-size="10" text-anchor="start" font-weight="normal" fill="#1a1a1a" stroke="#1a1a1a" stroke-width="0.25">C12</text>
<text x="130.00" y="150.50" font-size="10" text-anchor="start" font-weight="normal" fill="#1a1a1a" stroke="#1a1a1a" stroke-width="0.25">C13</text>
<text x="286.50" y="151.50" font-size="10" text-anchor="start" font-weight="normal" fill="#1a1a1a" stroke="#1a1a1a" stroke-width="0.25">C14</text>
<text x="446.20" y="151.50" font-size="10" text-anchor="start" font-weight="normal" fill="#1a1a1a" stroke="#1a1a1a" stroke-width="0.25">C15</text>
<line x1="443.50" y1="32.70" x2="463.80" y2="32.70" stroke="#777" stroke-width="1.3" />
<circle cx="454.2" cy="32.7" r="2.7" fill="#000"/>
<text x="474.20" y="35.20" font-size="12" text-anchor="start" font-weight="normal" fill="#1a1a1a" stroke="#1a1a1a" stroke-width="0.25">CD27+</text>
<line x1="444.00" y1="54.70" x2="465.00" y2="54.70" stroke="#777" stroke-width="1.0" stroke-dasharray="5 9.5 3 2 3 2"/>
<circle cx="454" cy="54.7" r="2.3" fill="#fff" stroke="#333" stroke-width="0.9"/>
<text x="474.20" y="57.20" font-size="12" text-anchor="start" font-weight="normal" fill="#1a1a1a" stroke="#1a1a1a" stroke-width="0.25">CD27-</text>
<text x="27.80" y="114.50" font-size="9" text-anchor="end" font-weight="normal" fill="#1a1a1a" stroke="#1a1a1a" stroke-width="0.25">0</text>
<text x="27.80" y="93.18" font-size="9" text-anchor="end" font-weight="normal" fill="#1a1a1a" stroke="#1a1a1a" stroke-width="0.25">1</text>
<text x="27.80" y="71.86" font-size="9" text-anchor="end" font-weight="normal" fill="#1a1a1a" stroke="#1a1a1a" stroke-width="0.25">2</text>
<text x="27.80" y="50.54" font-size="9" text-anchor="end" font-weight="normal" fill="#1a1a1a" stroke="#1a1a1a" stroke-width="0.25">3</text>
<text x="27.80" y="29.22" font-size="9" text-anchor="end" font-weight="normal" fill="#1a1a1a" stroke="#1a1a1a" stroke-width="0.25">4</text>
<text x="27.80" y="7.90" font-size="9" text-anchor="end" font-weight="normal" fill="#1a1a1a" stroke="#1a1a1a" stroke-width="0.25">5</text>
<text x="27.80" y="236.85" font-size="9" text-anchor="end" font-weight="normal" fill="#1a1a1a" stroke="#1a1a1a" stroke-width="0.25">0</text>
<text x="27.80" y="215.53" font-size="9" text-anchor="end" font-weight="normal" fill="#1a1a1a" stroke="#1a1a1a" stroke-width="0.25">1</text>
<text x="27.80" y="194.21" font-size="9" text-anchor="end" font-weight="normal" fill="#1a1a1a" stroke="#1a1a1a" stroke-width="0.25">2</text>
<text x="27.80" y="172.89" font-size="9" text-anchor="end" font-weight="normal" fill="#1a1a1a" stroke="#1a1a1a" stroke-width="0.25">3</text>
<text x="27.80" y="151.57" font-size="9" text-anchor="end" font-weight="normal" fill="#1a1a1a" stroke="#1a1a1a" stroke-width="0.25">4</text>
<text x="27.80" y="130.25" font-size="9" text-anchor="end" font-weight="normal" fill="#1a1a1a" stroke="#1a1a1a" stroke-width="0.25">5</text>
<text x="33.30" y="249.20" font-size="9" text-anchor="middle" font-weight="normal" fill="#1a1a1a" stroke="#1a1a1a" stroke-width="0.25">0</text>
<text x="62.95" y="249.20" font-size="9" text-anchor="middle" font-weight="normal" fill="#1a1a1a" stroke="#1a1a1a" stroke-width="0.25">5</text>
<text x="92.60" y="249.20" font-size="9" text-anchor="middle" font-weight="normal" fill="#1a1a1a" stroke="#1a1a1a" stroke-width="0.25">10</text>
<text x="122.25" y="249.20" font-size="9" text-anchor="middle" font-weight="normal" fill="#1a1a1a" stroke="#1a1a1a" stroke-width="0.25">15</text>
<text x="151.90" y="249.20" font-size="9" text-anchor="middle" font-weight="normal" fill="#1a1a1a" stroke="#1a1a1a" stroke-width="0.25">20</text>
<text x="181.55" y="249.20" font-size="9" text-anchor="middle" font-weight="normal" fill="#1a1a1a" stroke="#1a1a1a" stroke-width="0.25">25</text>
<text x="105.90" y="268.00" font-size="10.5" text-anchor="middle" font-weight="bold" fill="#1a1a1a" stroke="#1a1a1a" stroke-width="0.25" textLength="59" lengthAdjust="spacingAndGlyphs">Time (days)</text>
<text x="197.80" y="249.20" font-size="9" text-anchor="middle" font-weight="normal" fill="#1a1a1a" stroke="#1a1a1a" stroke-width="0.25">0</text>
<text x="227.45" y="249.20" font-size="9" text-anchor="middle" font-weight="normal" fill="#1a1a1a" stroke="#1a1a1a" stroke-width="0.25">5</text>
<text x="257.10" y="249.20" font-size="9" text-anchor="middle" font-weight="normal" fill="#1a1a1a" stroke="#1a1a1a" stroke-width="0.25">10</text>
<text x="286.75" y="249.20" font-size="9" text-anchor="middle" font-weight="normal" fill="#1a1a1a" stroke="#1a1a1a" stroke-width="0.25">15</text>
<text x="316.40" y="249.20" font-size="9" text-anchor="middle" font-weight="normal" fill="#1a1a1a" stroke="#1a1a1a" stroke-width="0.25">20</text>
<text x="346.05" y="249.20" font-size="9" text-anchor="middle" font-weight="normal" fill="#1a1a1a" stroke="#1a1a1a" stroke-width="0.25">25</text>
<text x="273.00" y="268.00" font-size="10.5" text-anchor="middle" font-weight="bold" fill="#1a1a1a" stroke="#1a1a1a" stroke-width="0.25" textLength="59" lengthAdjust="spacingAndGlyphs">Time (days)</text>
<text x="363.90" y="249.20" font-size="9" text-anchor="middle" font-weight="normal" fill="#1a1a1a" stroke="#1a1a1a" stroke-width="0.25">0</text>
<text x="393.90" y="249.20" font-size="9" text-anchor="middle" font-weight="normal" fill="#1a1a1a" stroke="#1a1a1a" stroke-width="0.25">5</text>
<text x="423.90" y="249.20" font-size="9" text-anchor="middle" font-weight="normal" fill="#1a1a1a" stroke="#1a1a1a" stroke-width="0.25">10</text>
<text x="453.90" y="249.20" font-size="9" text-anchor="middle" font-weight="normal" fill="#1a1a1a" stroke="#1a1a1a" stroke-width="0.25">15</text>
<text x="483.90" y="249.20" font-size="9" text-anchor="middle" font-weight="normal" fill="#1a1a1a" stroke="#1a1a1a" stroke-width="0.25">20</text>
<text x="513.90" y="249.20" font-size="9" text-anchor="middle" font-weight="normal" fill="#1a1a1a" stroke="#1a1a1a" stroke-width="0.25">25</text>
<text x="441.00" y="268.00" font-size="10.5" text-anchor="middle" font-weight="bold" fill="#1a1a1a" stroke="#1a1a1a" stroke-width="0.25" textLength="59" lengthAdjust="spacingAndGlyphs">Time (days)</text>
<text transform="translate(10,111.6) rotate(-90)" font-size="10" font-weight="bold" text-anchor="middle" textLength="159.5" lengthAdjust="spacingAndGlyphs" fill="#1a1a1a" stroke="#1a1a1a" stroke-width="0.25">Proportion of cells labeled (%)</text>
</svg>
</body></html>
